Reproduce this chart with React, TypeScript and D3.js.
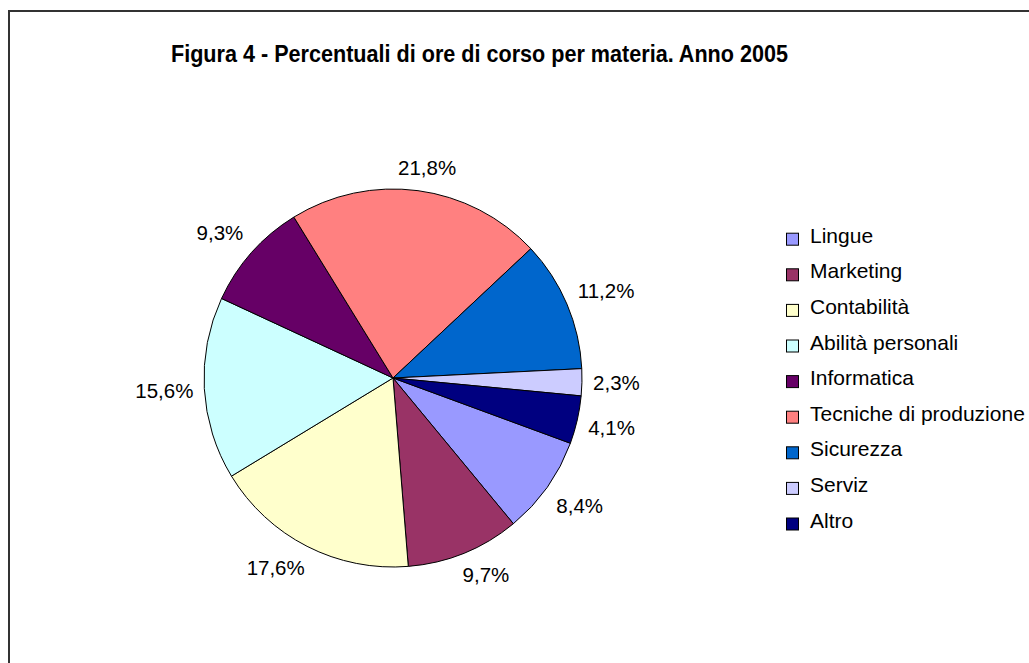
import React from "react";
import * as d3 from "d3";

const categories = ["Lingue", "Marketing", "Contabilità", "Abilità personali", "Informatica", "Tecniche di produzione", "Sicurezza", "Serviz", "Altro"];
const values = [8.4, 9.7, 17.6, 15.6, 9.3, 21.8, 11.2, 2.3, 4.1];
const colors = ["#9999FF", "#993366", "#FFFFCC", "#CCFFFF", "#660066", "#FF8080", "#0066CC", "#CCCCFF", "#000080"];
const title = "Figura 4 - Percentuali di ore di corso per materia. Anno 2005";

const W = 1029;
const H = 663;
const CX = 393;
const CY = 378;
const R = 189;
const START = (110.2 * Math.PI) / 180;
const FONT = "Arial, 'Liberation Sans', Helvetica, sans-serif";

const fmt = (v: number) => d3.format(".1f")(v).replace(".", ",") + "%";

export default function App() {
  const pie = d3
    .pie<number>()
    .sort(null)
    .value((d) => d)
    .startAngle(START)
    .endAngle(START + 2 * Math.PI);
  const arcs = pie(values);
  const arcGen = d3.arc<d3.PieArcDatum<number>>().innerRadius(0).outerRadius(R);

  const labelFont = 20.5;
  const labelR = 200;
  const hh = 12;
  const clamp = (v: number) => Math.max(-1, Math.min(1, v));

  return (
    <svg
      width={W}
      height={H}
      style={{ position: "absolute", left: 0, top: 0, background: "#fff" }}
    >
      <rect x={0} y={0} width={W} height={H} fill="#fff" />
      <rect x={9} y={11} width={W + 20} height={H + 20} fill="none" stroke="#333" strokeWidth={2} />
      <text
        x={171}
        y={62}
        fontFamily={FONT}
        fontWeight="bold"
        fontSize={24}
        textLength={617}
        lengthAdjust="spacingAndGlyphs"
        fill="#000"
      >
        {title}
      </text>
      <g transform={`translate(${CX},${CY})`}>
        {arcs.map((a, i) => (
          <path key={i} d={arcGen(a) || ""} fill={colors[i]} stroke="#000" strokeWidth={1} strokeLinejoin="round" />
        ))}
      </g>
      {arcs.map((a, i) => {
        const mid = (a.startAngle + a.endAngle) / 2;
        const s = Math.sin(mid);
        const c = Math.cos(mid);
        const txt = fmt(values[i]);
        const hw = (txt.length === 5 ? 58 : 47) / 2;
        const x = CX + labelR * s + hw * clamp(s * 2);
        const y = CY - labelR * c - hh * clamp(c * 2);
        return (
          <text
            key={i}
            x={x}
            y={y}
            dy="0.35em"
            textAnchor="middle"
            fontFamily={FONT}
            fontSize={labelFont}
            fill="#000"
          >
            {txt}
          </text>
        );
      })}
      {categories.map((cat, i) => {
        const cy = 239.2 + i * 35.6;
        return (
          <g key={cat}>
            <rect x={786.5} y={cy - 6} width={12} height={12} fill={colors[i]} stroke="#000" strokeWidth={1} />
            <text x={810} y={cy + 3.5} fontFamily={FONT} fontSize={21} fill="#000">
              {cat}
            </text>
          </g>
        );
      })}
    </svg>
  );
}
